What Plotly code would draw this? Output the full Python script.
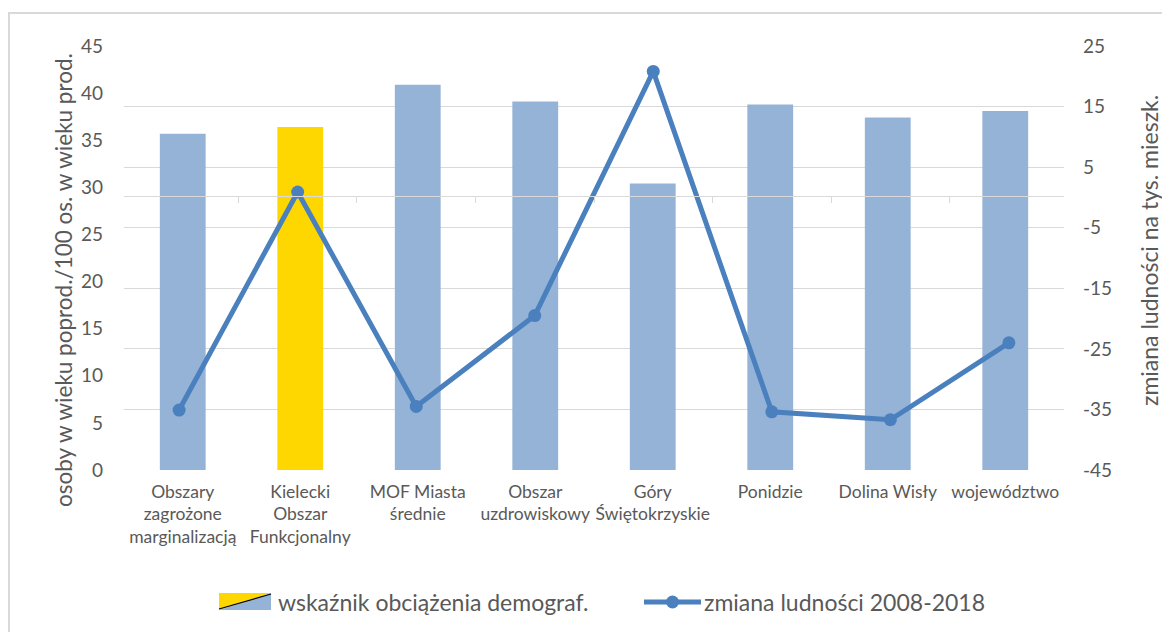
import plotly.graph_objects as go

categories = [
    "Obszary<br>zagrożone<br>marginalizacją",
    "Kielecki<br>Obszar<br>Funkcjonalny",
    "MOF Miasta<br>średnie",
    "Obszar<br>uzdrowiskowy",
    "Góry<br>Świętokrzyskie",
    "Ponidzie",
    "Dolina Wisły",
    "województwo",
]
burden = [35.7, 36.4, 40.9, 39.1, 30.4, 38.8, 37.4, 38.1]
pop_change = [-35.1, 0.9, -34.5, -19.5, 20.8, -35.4, -36.7, -24.0]
bar_colors = ["#95b3d7", "#ffd700", "#95b3d7", "#95b3d7", "#95b3d7", "#95b3d7", "#95b3d7", "#95b3d7"]
right_ticks = [25, 15, 5, -5, -15, -25, -35, -45]

LINE = "#4a80bd"
TEXT = "#595959"
GRID = "#d9d9d9"
FONT = "Lato, 'Open Sans', sans-serif"

# page body adds an 8px offset, so layout targets are shifted back by it
OFF = 8
W, H = 1170, 632
L, R, T, B = 124 - OFF, 106 + OFF, 46 - OFF, 162 + OFF


def px(x):
    return (x - OFF - L) / (W - L - R)


def py(y):
    return (H - B - (y - OFF)) / (H - T - B)


fig = go.Figure()
fig.add_trace(go.Bar(
    x=categories, y=burden, marker_color=bar_colors, marker_line_width=0,
    name="wskaźnik obciążenia demograf.", showlegend=False,
))
fig.add_trace(go.Scatter(
    x=categories, y=pop_change, xaxis="x2", yaxis="y2", mode="lines+markers",
    line=dict(color=LINE, width=5), marker=dict(size=13, color=LINE),
    name="zmiana ludności 2008-2018", showlegend=False,
))

# custom legend + chart frame
shapes = [
    dict(type="rect", xref="paper", yref="paper", x0=px(9), x1=px(1190), y0=py(13), y1=py(660),
         line=dict(color=GRID, width=2), fillcolor="rgba(0,0,0,0)", layer="below"),
    dict(type="path", xref="paper", yref="paper", fillcolor="#ffd700", line_width=0,
         path=f"M {px(219)} {py(593)} L {px(271)} {py(593)} L {px(219)} {py(610)} Z"),
    dict(type="path", xref="paper", yref="paper", fillcolor="#95b3d7", line_width=0,
         path=f"M {px(271)} {py(593)} L {px(271)} {py(610)} L {px(219)} {py(610)} Z"),
    dict(type="line", xref="paper", yref="paper", x0=px(219), y0=py(609), x1=px(271), y1=py(594),
         line=dict(color="#000000", width=1.2)),
    dict(type="line", xref="paper", yref="paper", x0=px(644), y0=py(602), x1=px(701), y1=py(602),
         line=dict(color=LINE, width=5)),
    dict(type="circle", xref="paper", yref="paper", x0=px(666), x1=px(679), y0=py(595.5), y1=py(608.5),
         fillcolor=LINE, line_width=0),
]
annotations = [
    dict(text="wskaźnik obciążenia demograf.", x=px(276), y=py(602), xref="paper", yref="paper",
         xanchor="left", yanchor="middle", showarrow=False, font=dict(size=23, color=TEXT, family=FONT)),
    dict(text="zmiana ludności 2008-2018", x=px(702), y=py(602), xref="paper", yref="paper",
         xanchor="left", yanchor="middle", showarrow=False, font=dict(size=23, color=TEXT, family=FONT)),
    dict(text="osoby w wieku poprod./100 os. w wieku prod.", textangle=-90, x=px(63), y=py(280),
         xref="paper", yref="paper", xanchor="center", yanchor="middle", showarrow=False,
         font=dict(size=22.5, color=TEXT, family=FONT)),
    dict(text="zmiana ludności na tys. mieszk.", textangle=-90, x=px(1149), y=py(251),
         xref="paper", yref="paper", xanchor="center", yanchor="middle", showarrow=False,
         font=dict(size=23, color=TEXT, family=FONT)),
]

fig.update_layout(
    width=W, height=H,
    margin=dict(l=L, r=R, t=T, b=B, autoexpand=False),
    paper_bgcolor="white", plot_bgcolor="white",
    font=dict(family=FONT, color=TEXT),
    bargap=0.61,
    showlegend=False,
    shapes=shapes,
    annotations=annotations,
    xaxis=dict(
        showgrid=False, showline=False, ticks="", tickfont=dict(size=17.5, color=TEXT),
        ticklabelstandoff=9, fixedrange=True, automargin=False,
    ),
    xaxis2=dict(
        overlaying="x", anchor="free", position=py(196), showticklabels=False,
        showline=True, linecolor=GRID, linewidth=1, ticks="outside", tickson="boundaries",
        ticklen=6, tickcolor=GRID, showgrid=False, layer="above traces",
    ),
    yaxis=dict(
        range=[0, 45], dtick=5, showgrid=False, zeroline=False, showline=False,
        tickfont=dict(size=19, color=TEXT), ticklabelstandoff=20, automargin=False,
    ),
    yaxis2=dict(
        range=[-45, 25], overlaying="y", side="right", anchor="x",
        tickvals=right_ticks, ticktext=[str(v) for v in right_ticks],
        showgrid=True, gridcolor=GRID, gridwidth=1.2, zeroline=False, showline=False,
        tickfont=dict(size=19, color=TEXT), ticklabelstandoff=18, automargin=False,
    ),
)

fig.write_html("out.html")
